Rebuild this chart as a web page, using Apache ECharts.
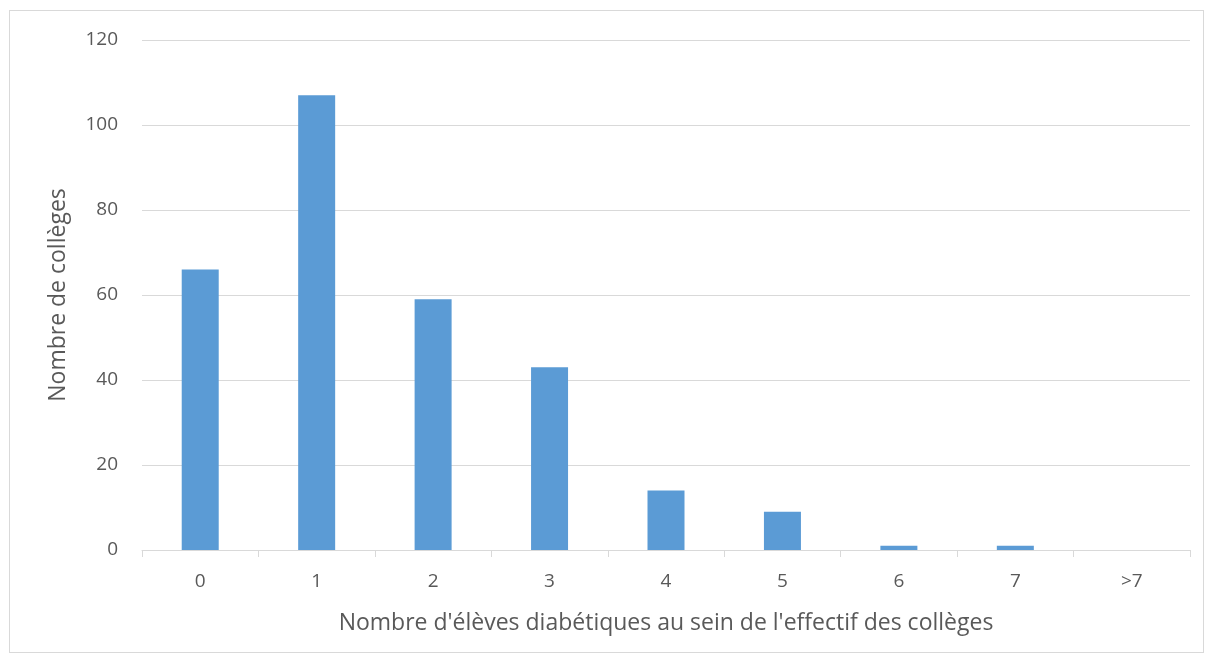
<!DOCTYPE html>
<html>
<head>
<meta charset="utf-8">
<script src="https://cdn.jsdelivr.net/npm/echarts@6/dist/echarts.min.js"></script>
<style>
  html, body { margin: 0; padding: 0; background: #fff; }
  #chart { width: 1214px; height: 663px; }
  #frame { position: absolute; left: 9px; top: 10px; width: 1193px; height: 641px; border: 1px solid #d9d9d9; pointer-events: none; }
</style>
</head>
<body>
<div id="chart"></div>
<div id="frame"></div>
<script>
// nombre d'élèves diabétiques par collège
const categories = ['0', '1', '2', '3', '4', '5', '6', '7', '>7'];
const colleges = [66, 107, 59, 43, 14, 9, 1, 1, 0];

const myChart = echarts.init(document.getElementById('chart'));
myChart.setOption({
  textStyle: { fontFamily: 'Open Sans, sans-serif' },
  animation: false,
  grid: { left: 142, right: 24, top: 40, bottom: 113 },
  xAxis: {
    type: 'category',
    data: categories,
    name: "Nombre d'élèves diabétiques au sein de l'effectif des collèges",
    nameLocation: 'middle',
    nameGap: 62,
    nameTextStyle: { fontSize: 23, color: '#595959' },
    axisLine: { lineStyle: { color: '#d9d9d9', width: 1 } },
    axisTick: { show: true, length: 7, lineStyle: { color: '#d9d9d9' } },
    axisLabel: { fontSize: 19, color: '#595959', margin: 22 }
  },
  yAxis: {
    type: 'value',
    min: 0,
    max: 120,
    interval: 20,
    name: 'Nombre de collèges',
    nameLocation: 'middle',
    nameGap: 72,
    nameTextStyle: { fontSize: 23, color: '#595959' },
    axisLine: { show: false },
    axisTick: { show: false },
    axisLabel: { fontSize: 19, color: '#595959', margin: 24 },
    splitLine: { lineStyle: { color: '#d9d9d9', width: 1 } }
  },
  series: [
    {
      type: 'bar',
      data: colleges,
      barWidth: 37,
      itemStyle: { color: '#5b9bd5' }
    }
  ]
});
</script>
</body>
</html>
